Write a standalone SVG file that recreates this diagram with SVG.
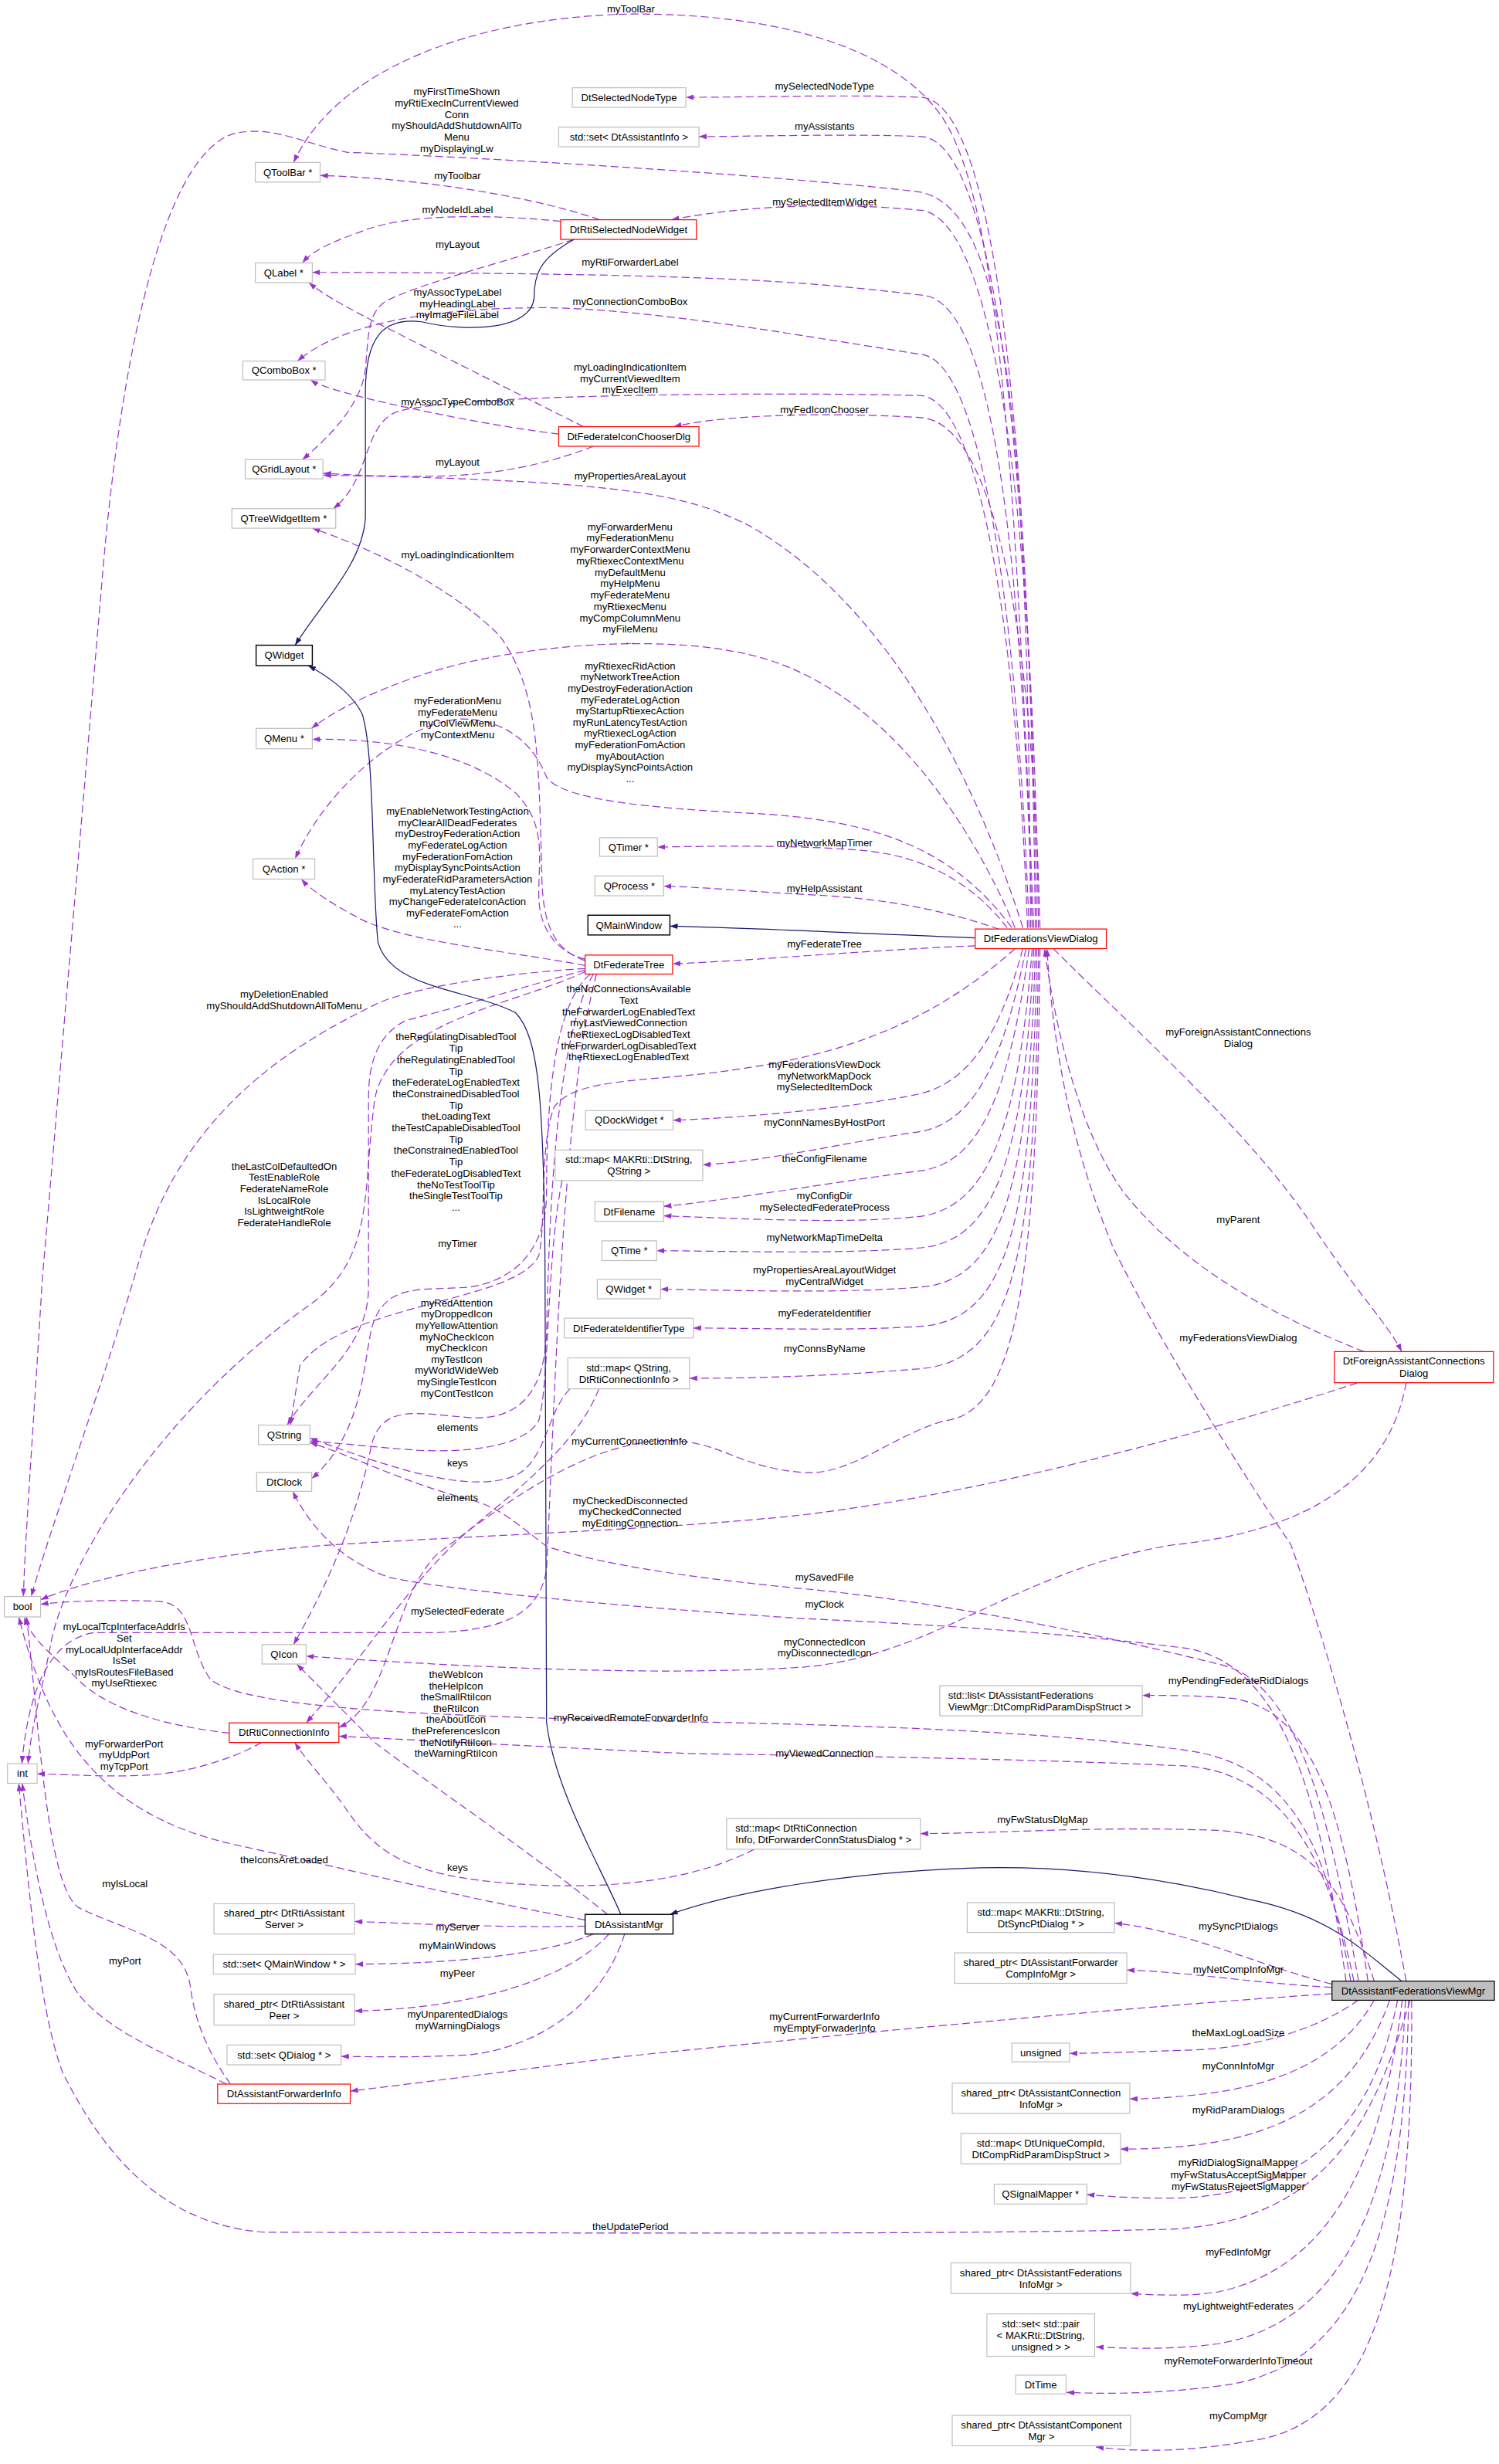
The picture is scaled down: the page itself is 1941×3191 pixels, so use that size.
<svg xmlns="http://www.w3.org/2000/svg" width="1941" height="3191" viewBox="0 0 1941 3191">
<style>
.t{font-family:"Liberation Sans",Arial,sans-serif;font-size:6.5px;text-anchor:middle;fill:#000}
.l{text-anchor:start}
.n{fill:#fff;stroke:#bfbfbf;stroke-width:0.6}
.r{fill:#fff;stroke:#ff0000;stroke-width:0.6}
.b{fill:#fff;stroke:#000;stroke-width:0.7}
.g{fill:#bfbfbf;stroke:#000;stroke-width:0.6}
.e{fill:none;stroke:#9a32cd;stroke-width:0.6;stroke-dasharray:5,2.5;marker-end:url(#ap)}
.i{fill:none;stroke:#191970;stroke-width:0.6;marker-end:url(#an)}
</style>
<defs>
<marker id="ap" viewBox="0 0 10 7" refX="10" refY="3.5" markerUnits="userSpaceOnUse" markerWidth="5" markerHeight="3.5" orient="auto"><path d="M0,0 L10,3.5 L0,7 z" fill="#9a32cd"/></marker>
<marker id="an" viewBox="0 0 10 7" refX="10" refY="3.5" markerUnits="userSpaceOnUse" markerWidth="5" markerHeight="3.5" orient="auto"><path d="M0,0 L10,3.5 L0,7 z" fill="#191970"/></marker>
</defs>
<rect x="0" y="0" width="1941" height="3191" fill="#fff"/>
<g transform="scale(2.022,2.033)">
<g id="edges">
<path class="e" d="M662,591 C 650,300 640,120 600,70 C 560,20 470,8 400,9 C 300,12 215,45 188,103.5"/>
<path class="e" d="M660,591 C 658,300 650,130 587,122 C 480,110 300,100 222,97 C 190,90 175,80 150,85 C 100,100 75,250 65,374 L 27,816 C 22,900 16,980 15,1017"/>
<path class="e" d="M663,591 C 660,300 640,65 590,62 C 545,60 480,62 439.2,62"/>
<path class="e" d="M664,591 C 660,320 640,90 590,87 C 545,85 480,87 447.6,87"/>
<path class="e" d="M665,591 C 662,350 640,140 590,134 C 530,128 470,132 430,140"/>
<path class="e" d="M661,591 C 655,380 640,190 590,188 C 520,180 470,174 200,173.5"/>
<path class="e" d="M659,591 C 652,400 630,230 590,225.8 C 520,215 420,197 350,196 C 280,196 220,205 190.5,230"/>
<path class="e" d="M658,591 C 652,420 630,256 590,252 C 520,250 300,250 255,262 C 232,270 238,305 213.4,324"/>
<path class="e" d="M666,591 C 662,420 640,270 590,266 C 520,262 460,265 431.5,271.8"/>
<path class="e" d="M655,591 C 620,480 560,380 480,335 C 440,315 400,306 207,302.7"/>
<path class="e" d="M650,591 C 620,520 560,430 470,415 C 420,405 330,410 270,430 C 240,440 215,452 199.5,464"/>
<path class="e" d="M648,591 C 610,540 560,522 480,518 C 420,515 360,510 350,495 C 340,470 320,458 295,458 C 260,460 210,500 189,547"/>
<path class="e" d="M645,591 C 625,565 595,546 555,542 C 510,538 460,539 421,539.6"/>
<path class="e" d="M640,592 C 600,578 560,572 520,570 C 480,568 450,565 425,564.5"/>
<path class="i" d="M624.5,597.5 C 560,595 480,591 429,590"/>
<path class="e" d="M624.5,602.5 C 560,605 480,612 430.7,614"/>
<path class="e" d="M650,604.3 C 610,640 560,668 480,680 C 420,690 370,685 355,705 C 345,730 350,780 345,800 C 330,830 220,830 192,870 L 186,907.8"/>
<path class="e" d="M655,604.3 C 640,660 620,690 588,697 C 550,705 480,712 431,713.6"/>
<path class="e" d="M657,604.3 C 642,680 622,716 588,721 C 540,728 490,740 450,742"/>
<path class="e" d="M659,604.3 C 646,700 626,742 588,746 C 540,752 470,764 425,768.5"/>
<path class="e" d="M661,604.3 C 652,720 632,770 588,775 C 540,780 470,776 425,774.5"/>
<path class="e" d="M662,604.3 C 656,740 636,792 588,795 C 540,799 470,797 420.5,796.7"/>
<path class="e" d="M663,604.3 C 659,760 640,817 588,820 C 540,824 470,822 423,821.2"/>
<path class="e" d="M664,604.3 C 661,780 646,842 588,845 C 540,848 490,846 444,846"/>
<path class="e" d="M665,604.3 C 663,800 650,868 588,872 C 540,876 490,878 441.5,878"/>
<path class="e" d="M666,604.3 C 664,820 650,900 605,905 C 570,915 545,940 515,938 C 470,935 460,915 420,918 C 370,922 320,960 280,990 C 250,1020 250,1085 217,1100.5"/>
<path class="e" d="M869,881 C 780,910 640,950 514,965 C 420,975 300,978 200,985 C 120,992 60,1005 26,1019"/>
<path class="e" d="M674.6,604.3 C 720,650 800,720 840,780 C 870,825 890,845 897.6,861"/>
<path class="e" d="M873.4,861 C 820,840 760,810 720,760 C 690,720 675,650 669,604.3"/>
<path class="e" d="M900.5,1262 C 880,1150 850,1050 826.7,984 C 790,930 740,850 713,795 C 690,740 675,680 670.5,604.3"/>
<path class="e" d="M900.5,880.8 C 890,940 840,975 752,984 C 650,1000 600,1055 514,1062 C 420,1068 300,1062 196,1055"/>
<path class="e" d="M384,140 C 350,128 280,114 205,111.8"/>
<path class="e" d="M359,141 C 320,137 260,135 230,148 C 210,155 200,160 193.6,167.5"/>
<path class="e" d="M367.5,152.5 C 330,165 270,180 246.8,192 C 235,200 236,215 234,235 C 232,255 215,275 193.6,292.8"/>
<path class="i" d="M367.7,152.5 C 345,165 342,175 342,190 C 340,210 300,212 270,205 C 245,202 234,215 234,250 L 234,330 C 232,360 205,385 189,411"/>
<path class="e" d="M373.7,271.8 C 340,255 300,235 260,215 C 230,200 210,190 197.8,180"/>
<path class="e" d="M357.8,276.5 C 320,272 270,262 240,255 C 220,250 205,246 198.8,242"/>
<path class="e" d="M380,284.3 C 360,292 330,301 290,303 C 260,304 230,303 207,301.5"/>
<path class="e" d="M374.7,612 C 355,605 348,590 347,560 C 345,480 345,440 320,405 C 290,375 240,350 200,336.5"/>
<path class="e" d="M374.7,611 C 355,606 345,590 345,570 C 345,545 350,525 330,505 C 300,480 250,470 200,471"/>
<path class="e" d="M374.7,615 C 320,605 260,600 230,585 C 215,577 200,568 193,560"/>
<path class="e" d="M374.7,617 C 320,620 260,630 240,640 C 200,660 120,700 90,800 C 70,870 30,980 20,1017"/>
<path class="e" d="M374.7,618 C 330,630 300,640 260,650 C 240,660 236,680 236,700 L 236,820 C 236,860 200,880 184,907.8"/>
<path class="e" d="M378,620.5 C 355,640 350,700 350,760 C 350,790 335,815 300,820 C 270,822 250,818 240,840 C 232,860 236,910 199.6,942"/>
<path class="e" d="M380,620.5 C 357,660 352,760 350,850 C 348,890 330,905 300,903 C 265,900 245,895 238,920 C 230,960 215,1000 188,1047.6"/>
<path class="e" d="M382,620.5 C 360,700 355,900 350,1000 C 345,1030 320,1038 280,1040 L 60,1040 C 30,1045 18,1080 14,1123.5"/>
<path class="e" d="M374.7,619 C 330,640 250,650 240,700 C 232,760 240,800 200,830 C 100,900 40,1000 32,1050 C 26,1080 20,1100 18,1123.5"/>
<path class="e" d="M360,752 C 350,800 352,880 345,905 C 335,922 300,925 270,924 C 240,922 215,919 198.4,918"/>
<path class="e" d="M365,884.7 C 350,900 350,930 330,940 C 300,952 250,935 198.4,916"/>
<path class="e" d="M383.5,884.7 C 370,920 330,950 300,975 C 260,1010 230,1060 196,1097.5"/>
<path class="e" d="M483,1178 C 450,1195 400,1205 330,1200 C 260,1195 240,1180 220,1150 C 205,1130 195,1120 188.8,1110"/>
<path class="e" d="M146.8,1104 C 110,1100 70,1090 50,1070 C 35,1055 20,1045 15.6,1030"/>
<path class="e" d="M167.5,1110 C 150,1120 120,1130 90,1131 C 60,1132 40,1130 23.8,1130"/>
<path class="e" d="M389,1219.5 C 340,1180 280,1140 240,1110 C 220,1090 205,1075 190,1060"/>
<path class="e" d="M374.7,1223 C 300,1210 220,1190 150,1175 C 60,1155 30,1100 12,1030"/>
<path class="e" d="M374.7,1227 C 330,1228 280,1226 227,1224"/>
<path class="e" d="M380,1232 C 350,1245 290,1251 227.5,1251.2"/>
<path class="e" d="M390,1232 C 360,1265 290,1280 227,1281"/>
<path class="e" d="M400,1232 C 385,1280 340,1305 300,1309 C 260,1311 235,1310 218.4,1310"/>
<path class="i" d="M897.6,1262 C 870,1240 850,1220 800,1210 C 740,1195 680,1188 620,1190 C 540,1193 470,1205 429,1219.5"/>
<path class="i" d="M397.6,1219.5 C 385,1190 355,1140 350,1097 L 349,800 C 348,700 345,660 330,645 C 300,630 250,630 242,600 C 238,560 240,480 232,455 C 225,440 205,428 197.3,424"/>
<path class="e" d="M147.6,1327.6 C 135,1310 125,1290 122,1266 C 118,1235 80,1230 50,1215 C 30,1200 25,1100 17,1030"/>
<path class="e" d="M145,1327.6 C 110,1310 70,1295 50,1270 C 30,1240 20,1180 14.2,1136"/>
<path class="e" d="M903,1274.2 C 880,1350 850,1415 750,1420 C 600,1424 300,1422 170,1422 C 110,1418 70,1380 40,1320 C 25,1280 18,1200 12,1136"/>
<path class="e" d="M870,1262 C 850,1150 830,1070 780,1060 C 700,1040 600,1020 514,1012 C 430,1004 380,995 350,985 C 330,970 320,960 300,955 C 260,945 220,925 198.4,919"/>
<path class="e" d="M862,1262 C 845,1140 820,1060 760,1050 C 680,1040 600,1035 514,1031 C 420,1025 300,1015 250,1005 C 220,995 200,975 187.4,950"/>
<path class="e" d="M876,1262 C 860,1150 840,1090 790,1082 C 770,1080 750,1080 731.5,1080"/>
<path class="e" d="M865,1262 C 850,1180 830,1125 760,1115 C 650,1100 500,1098 400,1096 C 300,1093 160,1090 135,1070 C 120,1050 125,1020 100,1020 C 70,1019 40,1020 26,1022"/>
<path class="e" d="M867,1262 C 850,1180 820,1130 760,1125 C 650,1120 500,1118 440,1117 C 350,1113 260,1108 217,1106"/>
<path class="e" d="M880,1262 C 860,1200 840,1170 780,1166 C 700,1163 640,1168 589.4,1168"/>
<path class="e" d="M853,1264 C 800,1250 760,1230 713.6,1225"/>
<path class="e" d="M853,1266 C 800,1263 760,1256 721.6,1255"/>
<path class="e" d="M853,1270 C 700,1280 500,1300 400,1310 C 320,1320 260,1328 224.3,1332"/>
<path class="e" d="M870,1274 C 840,1295 800,1305 760,1306 C 730,1307 700,1308 685,1308"/>
<path class="e" d="M880,1274 C 860,1310 820,1330 760,1335 C 740,1337 730,1337 723.5,1337"/>
<path class="e" d="M890,1274 C 870,1330 830,1360 760,1367 C 740,1369 725,1369 717.6,1369"/>
<path class="e" d="M895,1274 C 880,1350 840,1395 760,1400 C 730,1401 710,1399 696,1398"/>
<path class="e" d="M898,1274 C 885,1380 850,1445 780,1460 C 760,1463 740,1462 724,1461"/>
<path class="e" d="M900,1274 C 895,1400 860,1480 780,1493 C 750,1497 720,1496 701.8,1495"/>
<path class="e" d="M902,1274 C 900,1420 870,1510 780,1520 C 740,1525 710,1525 683,1524"/>
<path class="e" d="M904,1274 C 905,1450 880,1545 800,1555 C 760,1562 730,1562 701.8,1558.8"/>
</g>
<g id="labels">
<text class="t" x="404" y="8.1">myToolBar</text>
<text class="t" y="60.7"><tspan x="292.5">myFirstTimeShown</tspan><tspan x="292.5" dy="7.2">myRtiExecInCurrentViewed</tspan><tspan x="292.5" dy="7.2">Conn</tspan><tspan x="292.5" dy="7.2">myShouldAddShutdownAllTo</tspan><tspan x="292.5" dy="7.2">Menu</tspan><tspan x="292.5" dy="7.2">myDisplayingLw</tspan></text>
<text class="t" x="528" y="57.2">mySelectedNodeType</text>
<text class="t" x="528" y="82.6">myAssistants</text>
<text class="t" x="293" y="114.3">myToolbar</text>
<text class="t" x="528" y="130.7">mySelectedItemWidget</text>
<text class="t" x="293" y="135.8">myNodeIdLabel</text>
<text class="t" x="293" y="158">myLayout</text>
<text class="t" x="403.5" y="169.3">myRtiForwarderLabel</text>
<text class="t" y="188.6"><tspan x="293">myAssocTypeLabel</tspan><tspan x="293" dy="7.1">myHeadingLabel</tspan><tspan x="293" dy="7.1">myImageFileLabel</tspan></text>
<text class="t" x="403.5" y="194.3">myConnectionComboBox</text>
<text class="t" y="236.3"><tspan x="403.5">myLoadingIndicationItem</tspan><tspan x="403.5" dy="7.1">myCurrentViewedItem</tspan><tspan x="403.5" dy="7.1">myExecItem</tspan></text>
<text class="t" x="293" y="258">myAssocTypeComboBox</text>
<text class="t" x="528" y="263.1">myFedIconChooser</text>
<text class="t" x="293" y="296.7">myLayout</text>
<text class="t" x="403.5" y="305.6">myPropertiesAreaLayout</text>
<text class="t" x="293" y="355.7">myLoadingIndicationItem</text>
<text class="t" y="337.8"><tspan x="403.5">myForwarderMenu</tspan><tspan x="403.5" dy="7.25">myFederationMenu</tspan><tspan x="403.5" dy="7.25">myForwarderContextMenu</tspan><tspan x="403.5" dy="7.25">myRtiexecContextMenu</tspan><tspan x="403.5" dy="7.25">myDefaultMenu</tspan><tspan x="403.5" dy="7.25">myHelpMenu</tspan><tspan x="403.5" dy="7.25">myFederateMenu</tspan><tspan x="403.5" dy="7.25">myRtiexecMenu</tspan><tspan x="403.5" dy="7.25">myCompColumnMenu</tspan><tspan x="403.5" dy="7.25">myFileMenu</tspan><tspan x="403.5" dy="7.25">...</tspan></text>
<text class="t" y="426.3"><tspan x="403.5">myRtiexecRidAction</tspan><tspan x="403.5" dy="7.2">myNetworkTreeAction</tspan><tspan x="403.5" dy="7.2">myDestroyFederationAction</tspan><tspan x="403.5" dy="7.2">myFederateLogAction</tspan><tspan x="403.5" dy="7.2">myStartupRtiexecAction</tspan><tspan x="403.5" dy="7.2">myRunLatencyTestAction</tspan><tspan x="403.5" dy="7.2">myRtiexecLogAction</tspan><tspan x="403.5" dy="7.2">myFederationFomAction</tspan><tspan x="403.5" dy="7.2">myAboutAction</tspan><tspan x="403.5" dy="7.2">myDisplaySyncPointsAction</tspan><tspan x="403.5" dy="7.2">...</tspan></text>
<text class="t" y="448.7"><tspan x="293">myFederationMenu</tspan><tspan x="293" dy="7.2">myFederateMenu</tspan><tspan x="293" dy="7.2">myColViewMenu</tspan><tspan x="293" dy="7.2">myContextMenu</tspan></text>
<text class="t" y="519"><tspan x="293">myEnableNetworkTestingAction</tspan><tspan x="293" dy="7.2">myClearAllDeadFederates</tspan><tspan x="293" dy="7.2">myDestroyFederationAction</tspan><tspan x="293" dy="7.2">myFederateLogAction</tspan><tspan x="293" dy="7.2">myFederationFomAction</tspan><tspan x="293" dy="7.2">myDisplaySyncPointsAction</tspan><tspan x="293" dy="7.2">myFederateRidParametersAction</tspan><tspan x="293" dy="7.2">myLatencyTestAction</tspan><tspan x="293" dy="7.2">myChangeFederateIconAction</tspan><tspan x="293" dy="7.2">myFederateFomAction</tspan><tspan x="293" dy="7.2">...</tspan></text>
<text class="t" x="528" y="539.3">myNetworkMapTimer</text>
<text class="t" x="528" y="568.3">myHelpAssistant</text>
<text class="t" x="528" y="603.3">myFederateTree</text>
<text class="t" y="632.3"><tspan x="402.6">theNoConnectionsAvailable</tspan><tspan x="402.6" dy="7.2">Text</tspan><tspan x="402.6" dy="7.2">theForwarderLogEnabledText</tspan><tspan x="402.6" dy="7.2">myLastViewedConnection</tspan><tspan x="402.6" dy="7.2">theRtiexecLogDisabledText</tspan><tspan x="402.6" dy="7.2">theForwarderLogDisabledText</tspan><tspan x="402.6" dy="7.2">theRtiexecLogEnabledText</tspan></text>
<text class="t" y="635.3"><tspan x="182">myDeletionEnabled</tspan><tspan x="182" dy="7.7">myShouldAddShutdownAllToMenu</tspan></text>
<text class="t" y="659.7"><tspan x="793">myForeignAssistantConnections</tspan><tspan x="793" dy="7.3">Dialog</tspan></text>
<text class="t" y="662.8"><tspan x="292">theRegulatingDisabledTool</tspan><tspan x="292" dy="7.23">Tip</tspan><tspan x="292" dy="7.23">theRegulatingEnabledTool</tspan><tspan x="292" dy="7.23">Tip</tspan><tspan x="292" dy="7.23">theFederateLogEnabledText</tspan><tspan x="292" dy="7.23">theConstrainedDisabledTool</tspan><tspan x="292" dy="7.23">Tip</tspan><tspan x="292" dy="7.23">theLoadingText</tspan><tspan x="292" dy="7.23">theTestCapableDisabledTool</tspan><tspan x="292" dy="7.23">Tip</tspan><tspan x="292" dy="7.23">theConstrainedEnabledTool</tspan><tspan x="292" dy="7.23">Tip</tspan><tspan x="292" dy="7.23">theFederateLogDisabledText</tspan><tspan x="292" dy="7.23">theNoTestToolTip</tspan><tspan x="292" dy="7.23">theSingleTestToolTip</tspan><tspan x="292" dy="7.23">...</tspan></text>
<text class="t" y="680.3"><tspan x="528">myFederationsViewDock</tspan><tspan x="528" dy="7.2">myNetworkMapDock</tspan><tspan x="528" dy="7.2">mySelectedItemDock</tspan></text>
<text class="t" x="528" y="717.3">myConnNamesByHostPort</text>
<text class="t" x="528" y="740.3">theConfigFilename</text>
<text class="t" y="745.1"><tspan x="182">theLastColDefaultedOn</tspan><tspan x="182" dy="7.2">TestEnableRole</tspan><tspan x="182" dy="7.2">FederateNameRole</tspan><tspan x="182" dy="7.2">IsLocalRole</tspan><tspan x="182" dy="7.2">IsLightweightRole</tspan><tspan x="182" dy="7.2">FederateHandleRole</tspan></text>
<text class="t" y="763.8"><tspan x="528">myConfigDir</tspan><tspan x="528" dy="7.3">mySelectedFederateProcess</tspan></text>
<text class="t" x="793" y="779">myParent</text>
<text class="t" x="528" y="790.3">myNetworkMapTimeDelta</text>
<text class="t" x="293" y="794.6">myTimer</text>
<text class="t" y="811"><tspan x="528">myPropertiesAreaLayoutWidget</tspan><tspan x="528" dy="7.3">myCentralWidget</tspan></text>
<text class="t" y="832.1"><tspan x="292.5">myRedAttention</tspan><tspan x="292.5" dy="7.2">myDroppedIcon</tspan><tspan x="292.5" dy="7.2">myYellowAttention</tspan><tspan x="292.5" dy="7.2">myNoCheckIcon</tspan><tspan x="292.5" dy="7.2">myCheckIcon</tspan><tspan x="292.5" dy="7.2">myTestIcon</tspan><tspan x="292.5" dy="7.2">myWorldWideWeb</tspan><tspan x="292.5" dy="7.2">mySingleTestIcon</tspan><tspan x="292.5" dy="7.2">myContTestIcon</tspan></text>
<text class="t" x="528" y="838.8">myFederateIdentifier</text>
<text class="t" x="793" y="854.6">myFederationsViewDialog</text>
<text class="t" x="528" y="861.3">myConnsByName</text>
<text class="t" x="293" y="911.3">elements</text>
<text class="t" x="403" y="920.3">myCurrentConnectionInfo</text>
<text class="t" x="293" y="933.9">keys</text>
<text class="t" x="293" y="956.3">elements</text>
<text class="t" y="958"><tspan x="403.5">myCheckedDisconnected</tspan><tspan x="403.5" dy="7.2">myCheckedConnected</tspan><tspan x="403.5" dy="7.2">myEditingConnection</tspan></text>
<text class="t" x="528" y="1007">mySavedFile</text>
<text class="t" x="528" y="1024.3">myClock</text>
<text class="t" x="293" y="1028.7">mySelectedFederate</text>
<text class="t" y="1038.6"><tspan x="79.5">myLocalTcpInterfaceAddrIs</tspan><tspan x="79.5" dy="7.15">Set</tspan><tspan x="79.5" dy="7.15">myLocalUdpInterfaceAddr</tspan><tspan x="79.5" dy="7.15">IsSet</tspan><tspan x="79.5" dy="7.15">myIsRoutesFileBased</tspan><tspan x="79.5" dy="7.15">myUseRtiexec</tspan></text>
<text class="t" y="1048"><tspan x="528">myConnectedIcon</tspan><tspan x="528" dy="7">myDisconnectedIcon</tspan></text>
<text class="t" y="1068.8"><tspan x="292">theWebIcon</tspan><tspan x="292" dy="7.2">theHelpIcon</tspan><tspan x="292" dy="7.2">theSmallRtiIcon</tspan><tspan x="292" dy="7.2">theRtiIcon</tspan><tspan x="292" dy="7.2">theAboutIcon</tspan><tspan x="292" dy="7.2">thePreferencesIcon</tspan><tspan x="292" dy="7.2">theNotifyRtiIcon</tspan><tspan x="292" dy="7.2">theWarningRtiIcon</tspan></text>
<text class="t" x="793" y="1072.7">myPendingFederateRidDialogs</text>
<text class="t" x="404" y="1096.6">myReceivedRemoteForwarderInfo</text>
<text class="t" y="1113"><tspan x="79.5">myForwarderPort</tspan><tspan x="79.5" dy="7.2">myUdpPort</tspan><tspan x="79.5" dy="7.2">myTcpPort</tspan></text>
<text class="t" x="528" y="1119.1">myViewedConnection</text>
<text class="t" x="667.6" y="1161.3">myFwStatusDlgMap</text>
<text class="t" x="182" y="1186.8">theIconsAreLoaded</text>
<text class="t" x="293" y="1191.8">keys</text>
<text class="t" x="80" y="1202.3">myIsLocal</text>
<text class="t" x="793" y="1229.1">mySyncPtDialogs</text>
<text class="t" x="293" y="1229.6">myServer</text>
<text class="t" x="293" y="1241.6">myMainWindows</text>
<text class="t" x="80" y="1251.3">myPort</text>
<text class="t" x="793" y="1256.7">myNetCompInfoMgr</text>
<text class="t" x="293" y="1259.3">myPeer</text>
<text class="t" y="1285.3"><tspan x="293">myUnparentedDialogs</tspan><tspan x="293" dy="7.4">myWarningDialogs</tspan></text>
<text class="t" y="1286.6"><tspan x="528">myCurrentForwarderInfo</tspan><tspan x="528" dy="7.4">myEmptyForwaderInfo</tspan></text>
<text class="t" x="793" y="1297">theMaxLogLoadSize</text>
<text class="t" x="793" y="1318.3">myConnInfoMgr</text>
<text class="t" x="793" y="1346.3">myRidParamDialogs</text>
<text class="t" y="1379.9"><tspan x="793">myRidDialogSignalMapper</tspan><tspan x="793" dy="7.5">myFwStatusAcceptSigMapper</tspan><tspan x="793" dy="7.5">myFwStatusRejectSigMapper</tspan></text>
<text class="t" x="403.7" y="1420.7">theUpdatePeriod</text>
<text class="t" x="793" y="1436.7">myFedInfoMgr</text>
<text class="t" x="793" y="1471.3">myLightweightFederates</text>
<text class="t" x="793" y="1506.3">myRemoteForwarderInfoTimeout</text>
<text class="t" x="793" y="1541.3">myCompMgr</text>
</g>
<g id="QToolBar"><rect class="n" x="163.5" y="103.5" width="41.5" height="12.5"/><text class="t" x="184.3" y="112.1">QToolBar *</text></g>
<g id="QLabel"><rect class="n" x="163.5" y="167.5" width="36.5" height="12.5"/><text class="t" x="181.7" y="176">QLabel *</text></g>
<g id="QComboBox"><rect class="n" x="155.5" y="230" width="52.7" height="12"/><text class="t" x="181.9" y="238.3">QComboBox *</text></g>
<g id="QGridLayout"><rect class="n" x="157" y="292.8" width="49.8" height="12.2"/><text class="t" x="181.9" y="301.2">QGridLayout *</text></g>
<g id="QTreeWidgetItem"><rect class="n" x="148.5" y="324" width="66.5" height="12.5"/><text class="t" x="181.7" y="332.5">QTreeWidgetItem *</text></g>
<g id="QWidget"><rect class="b" x="164" y="411" width="36" height="13"/><text class="t" x="182" y="419.8">QWidget</text></g>
<g id="QMenu"><rect class="n" x="164" y="464" width="36" height="13"/><text class="t" x="182" y="472.8">QMenu *</text></g>
<g id="QAction"><rect class="n" x="162" y="547" width="39.6" height="13"/><text class="t" x="181.8" y="555.8">QAction *</text></g>
<g id="QString"><rect class="n" x="165.5" y="907.8" width="32.9" height="12.4"/><text class="t" x="182" y="916.3">QString</text></g>
<g id="DtClock"><rect class="n" x="164.4" y="938" width="35.2" height="12"/><text class="t" x="182" y="946.3">DtClock</text></g>
<g id="QIcon"><rect class="n" x="167.8" y="1047.6" width="28.2" height="12.4"/><text class="t" x="181.9" y="1056.1">QIcon</text></g>
<g id="DtRtiConnectionInfo"><rect class="r" x="146.8" y="1097.5" width="70.2" height="12.5"/><text class="t" x="181.9" y="1106">DtRtiConnectionInfo</text></g>
<g id="bool"><rect class="n" x="2.8" y="1017" width="23.2" height="13"/><text class="t" x="14.4" y="1025.8">bool</text></g>
<g id="int"><rect class="n" x="4.8" y="1123.5" width="19" height="12.5"/><text class="t" x="14.3" y="1132">int</text></g>
<g id="spServer"><rect class="n" x="137" y="1212.7" width="90" height="19.3"/><text class="t" y="1221"><tspan x="182">shared_ptr&lt; DtRtiAssistant</tspan><tspan x="182" dy="7.4">Server &gt;</tspan></text></g>
<g id="setQMainWindow"><rect class="n" x="136.6" y="1245" width="90.9" height="12.5"/><text class="t" x="182" y="1253.5">std::set&lt; QMainWindow * &gt;</text></g>
<g id="spPeer"><rect class="n" x="137" y="1270.3" width="90" height="19.7"/><text class="t" y="1278.9"><tspan x="182">shared_ptr&lt; DtRtiAssistant</tspan><tspan x="182" dy="7.4">Peer &gt;</tspan></text></g>
<g id="setQDialog"><rect class="n" x="145.4" y="1302.7" width="73" height="12.6"/><text class="t" x="181.9" y="1311.3">std::set&lt; QDialog * &gt;</text></g>
<g id="DtAssistantForwarderInfo"><rect class="r" x="139.4" y="1327.6" width="84.9" height="12.4"/><text class="t" x="181.9" y="1336.1">DtAssistantForwarderInfo</text></g>
<g id="DtSelectedNodeType"><rect class="n" x="366.5" y="55.9" width="72.7" height="12.5"/><text class="t" x="402.8" y="64.4">DtSelectedNodeType</text></g>
<g id="setDtAssistantInfo"><rect class="n" x="357.8" y="81" width="89.8" height="12.5"/><text class="t" x="402.7" y="89.5">std::set&lt; DtAssistantInfo &gt;</text></g>
<g id="DtRtiSelectedNodeWidget"><rect class="r" x="359" y="140" width="87" height="12.5"/><text class="t" x="402.5" y="148.5">DtRtiSelectedNodeWidget</text></g>
<g id="DtFederateIconChooserDlg"><rect class="r" x="357.8" y="271.8" width="89.8" height="12.5"/><text class="t" x="402.7" y="280.3">DtFederateIconChooserDlg</text></g>
<g id="QTimer"><rect class="n" x="384" y="533.7" width="37" height="11.8"/><text class="t" x="402.5" y="541.9">QTimer *</text></g>
<g id="QProcess"><rect class="n" x="381" y="558" width="44" height="12.6"/><text class="t" x="403" y="566.6">QProcess *</text></g>
<g id="QMainWindow"><rect class="b" x="376.5" y="583" width="52.5" height="12.6"/><text class="t" x="402.7" y="591.6">QMainWindow</text></g>
<g id="DtFederateTree"><rect class="r" x="374.7" y="608.4" width="56" height="12.1"/><text class="t" x="402.7" y="616.7">DtFederateTree</text></g>
<g id="QDockWidget"><rect class="n" x="375" y="707.5" width="56" height="12.2"/><text class="t" x="403" y="715.9">QDockWidget *</text></g>
<g id="mapDtStringQString"><rect class="n" x="355.5" y="732.6" width="94.5" height="19.4"/><text class="t" y="741"><tspan x="402.7">std::map&lt; MAKRti::DtString,</tspan><tspan x="402.7" dy="7.4">QString &gt;</tspan></text></g>
<g id="DtFilename"><rect class="n" x="381" y="765.5" width="44" height="12.5"/><text class="t" x="403" y="774">DtFilename</text></g>
<g id="QTime"><rect class="n" x="385.5" y="790.4" width="35" height="12.6"/><text class="t" x="403" y="799">QTime *</text></g>
<g id="QWidgetPtr"><rect class="n" x="382.5" y="815" width="40.5" height="12.4"/><text class="t" x="402.7" y="823.5">QWidget *</text></g>
<g id="DtFederateIdentifierType"><rect class="n" x="361.4" y="839.7" width="82.6" height="12.6"/><text class="t" x="402.7" y="848.3">DtFederateIdentifierType</text></g>
<g id="mapQStringConn"><rect class="n" x="363.6" y="865" width="77.9" height="19.7"/><text class="t" y="873.5"><tspan x="402.6">std::map&lt; QString,</tspan><tspan x="402.6" dy="7.4">DtRtiConnectionInfo &gt;</tspan></text></g>
<g id="mapConnStatusDlg"><rect class="n" x="465.3" y="1158.4" width="124.1" height="19.6"/><text class="t l" y="1166.8"><tspan x="471">std::map&lt; DtRtiConnection</tspan><tspan x="471" dy="7.4">Info, DtForwarderConnStatusDialog * &gt;</tspan></text></g>
<g id="DtAssistantMgr"><rect class="b" x="374.7" y="1219.5" width="56.3" height="12.5"/><text class="t" x="402.8" y="1228">DtAssistantMgr</text></g>
<g id="DtFederationsViewDialog"><rect class="r" x="624.5" y="591.8" width="84" height="12.5"/><text class="t" x="666.5" y="600.3">DtFederationsViewDialog</text></g>
<g id="DtForeignAssistantConnectionsDialog"><rect class="r" x="854.5" y="861" width="101.9" height="19.8"/><text class="t" y="869.3"><tspan x="905.4">DtForeignAssistantConnections</tspan><tspan x="905.4" dy="7.6">Dialog</tspan></text></g>
<g id="listCompRid"><rect class="n" x="601.8" y="1073.8" width="129.7" height="19.2"/><text class="t l" y="1082.1"><tspan x="607.2">std::list&lt; DtAssistantFederations</tspan><tspan x="607.2" dy="7.2">ViewMgr::DtCompRidParamDispStruct &gt;</tspan></text></g>
<g id="mapSyncPt"><rect class="n" x="619.4" y="1212" width="94.2" height="19"/><text class="t" y="1220.3"><tspan x="666.5">std::map&lt; MAKRti::DtString,</tspan><tspan x="666.5" dy="7.4">DtSyncPtDialog * &gt;</tspan></text></g>
<g id="spForwarderCompInfoMgr"><rect class="n" x="611.3" y="1244" width="110.3" height="19.4"/><text class="t" y="1252.3"><tspan x="666.5">shared_ptr&lt; DtAssistantForwarder</tspan><tspan x="666.5" dy="7.5">CompInfoMgr &gt;</tspan></text></g>
<g id="unsigned"><rect class="n" x="648" y="1301.5" width="37" height="11.9"/><text class="t" x="666.5" y="1309.7">unsigned</text></g>
<g id="spConnectionInfoMgr"><rect class="n" x="609.8" y="1327" width="113.7" height="19.3"/><text class="t" y="1335.3"><tspan x="666.6">shared_ptr&lt; DtAssistantConnection</tspan><tspan x="666.6" dy="7.5">InfoMgr &gt;</tspan></text></g>
<g id="mapUniqueCompId"><rect class="n" x="615.4" y="1359" width="102.2" height="19.4"/><text class="t" y="1367.3"><tspan x="666.5">std::map&lt; DtUniqueCompId,</tspan><tspan x="666.5" dy="7.5">DtCompRidParamDispStruct &gt;</tspan></text></g>
<g id="QSignalMapper"><rect class="n" x="636.7" y="1391.4" width="59.3" height="12.6"/><text class="t" x="666.3" y="1400">QSignalMapper *</text></g>
<g id="spFederationsInfoMgr"><rect class="n" x="609" y="1441.5" width="115" height="19.5"/><text class="t" y="1449.9"><tspan x="666.5">shared_ptr&lt; DtAssistantFederations</tspan><tspan x="666.5" dy="7.4">InfoMgr &gt;</tspan></text></g>
<g id="setPair"><rect class="n" x="632" y="1474" width="69" height="27"/><text class="t" y="1482.3"><tspan x="666.5">std::set&lt; std::pair</tspan><tspan x="666.5" dy="7.4">&lt; MAKRti::DtString,</tspan><tspan x="666.5" dy="7.4">unsigned &gt; &gt;</tspan></text></g>
<g id="DtTime"><rect class="n" x="650.4" y="1513" width="32.3" height="12"/><text class="t" x="666.5" y="1521.3">DtTime</text></g>
<g id="spComponentMgr"><rect class="n" x="609.8" y="1538.6" width="114.2" height="19.4"/><text class="t" y="1547"><tspan x="666.9">shared_ptr&lt; DtAssistantComponent</tspan><tspan x="666.9" dy="7.4">Mgr &gt;</tspan></text></g>
<g id="DtAssistantFederationsViewMgr"><rect class="g" x="853" y="1262" width="104" height="12.2"/><text class="t" x="905" y="1270.4">DtAssistantFederationsViewMgr</text></g>
</g>
</svg>
